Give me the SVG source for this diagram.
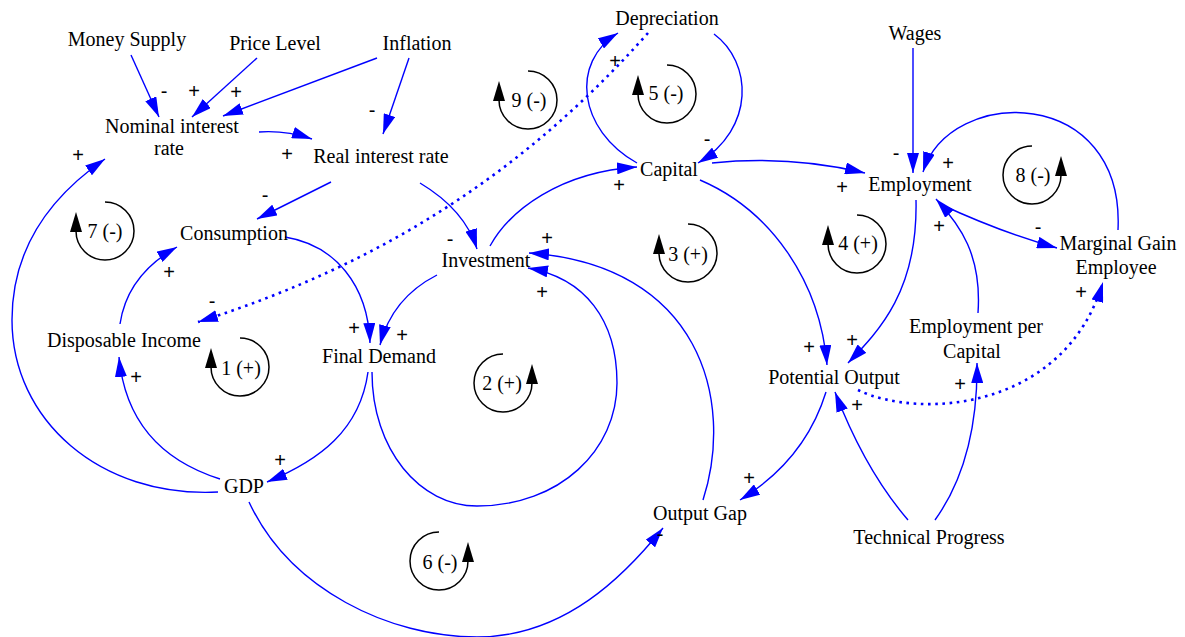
<svg xmlns="http://www.w3.org/2000/svg" xmlns:xlink="http://www.w3.org/1999/xlink" width="1185" height="637" viewBox="0 0 1185 637">
<style>
.n{font-family:"Liberation Serif","Times New Roman",serif;font-size:20px;fill:#000;text-anchor:middle}
.s{font-family:"Liberation Sans",Arial,sans-serif;font-size:20px;fill:#000;text-anchor:middle}
.l{font-family:"Liberation Serif","Times New Roman",serif;font-size:20px;fill:#000;text-anchor:middle}
.c{fill:none;stroke:#0000ff;stroke-width:1.4;marker-end:url(#ah)}
.d{fill:none;stroke:#0000ff;stroke-width:2.6;stroke-dasharray:2.6 4.6;marker-end:url(#ah)}
.la{fill:none;stroke:#000;stroke-width:1.5}
</style>
<defs>
<marker id="ah" markerUnits="userSpaceOnUse" markerWidth="20" markerHeight="12" viewBox="0 0 20 12" refX="20" refY="6" orient="auto">
<path d="M0,0 L20,6 L0,12 z" fill="#0000ff"/>
</marker>
<g id="loopCW"><path class="la" d="M0,-29 A29,29 0 1 1 -29,0"/><polygon points="-35,1 -23,1 -29,-19" fill="#000"/></g>
<g id="loopCCW"><path class="la" d="M0,-29 A29,29 0 1 0 29,0"/><polygon points="23,1 35,1 29,-19" fill="#000"/></g>
</defs>
<rect width="1185" height="637" fill="#fff"/>
<g id="connectors">
<path class="c" d="M131,55 L159,117"/>
<path class="c" d="M257,58 L192,117"/>
<path class="c" d="M377,58 L223,116"/>
<path class="c" d="M409,58 L383,134"/>
<path class="c" d="M259,132 Q285,130 312,139"/>
<path class="c" d="M331,182 L257,219"/>
<path class="c" d="M420,183 Q465,210 477,249"/>
<path class="c" d="M714,34 C752,62 756,128 698,163"/>
<path class="c" d="M637,163 C578,130 570,62 618,33"/>
<path class="d" d="M648,33 C528,168 388,262 198,322"/>
<path class="c" d="M712,163 Q790,155 865,173"/>
<path class="c" d="M700,180 C770,210 820,280 827,365"/>
<path class="c" d="M490,246 C510,210 560,172 637,167"/>
<path class="c" d="M940,204 Q1000,232 1057,248"/>
<path class="c" d="M1118,230 C1125,85 950,85 923,172"/>
<path class="c" d="M913,48 L913,173"/>
<path class="c" d="M916,200 C918,290 880,330 848,363"/>
<path class="c" d="M978,313 C982,255 960,225 936,199"/>
<path class="d" d="M858,390 C920,420 1065,410 1103,282"/>
<path class="c" d="M908,520 Q865,470 835,392"/>
<path class="c" d="M935,520 Q978,460 977,363"/>
<path class="c" d="M826,392 Q805,460 740,500"/>
<path class="c" d="M249,502 C290,590 390,637 477,637 C565,637 625,575 663,528"/>
<path class="c" d="M703,500 C735,400 700,265 529,253"/>
<path class="c" d="M372,372 C372,450 420,506 477,506 C560,506 617,450 617,383 C617,320 585,278 528,268"/>
<path class="c" d="M437,275 Q392,298 380,345"/>
<path class="c" d="M285,237 C335,245 368,285 370,343"/>
<path class="c" d="M368,372 C360,430 320,460 267,482"/>
<path class="c" d="M220,479 C160,460 125,420 119,357"/>
<path class="c" d="M218,492 C100,498 12,420 12,320 C12,240 60,190 105,159"/>
<path class="c" d="M120,324 C125,290 145,265 177,247"/>
</g>
<g id="polarities">
<text class="s" x="164" y="98">-</text>
<text class="s" x="194" y="98">+</text>
<text class="s" x="236" y="99">+</text>
<text class="s" x="372" y="117">-</text>
<text class="s" x="78" y="162">+</text>
<text class="s" x="287" y="161">+</text>
<text class="s" x="265" y="202">-</text>
<text class="s" x="615" y="68">+</text>
<text class="s" x="707" y="146">-</text>
<text class="s" x="619" y="192">+</text>
<text class="s" x="896" y="160">-</text>
<text class="s" x="948" y="170">+</text>
<text class="s" x="842" y="194">+</text>
<text class="s" x="939" y="233">+</text>
<text class="s" x="1038" y="234">-</text>
<text class="s" x="1081" y="299">+</text>
<text class="s" x="169" y="279">+</text>
<text class="s" x="212" y="308">-</text>
<text class="s" x="354" y="335">+</text>
<text class="s" x="402" y="342">+</text>
<text class="s" x="136" y="384">+</text>
<text class="s" x="280" y="467">+</text>
<text class="s" x="450" y="246">-</text>
<text class="s" x="547" y="245">+</text>
<text class="s" x="542" y="299">+</text>
<text class="s" x="749" y="485">+</text>
<text class="s" x="809" y="354">+</text>
<text class="s" x="852" y="347">+</text>
<text class="s" x="960" y="391">+</text>
<text class="s" x="857" y="412">+</text>
<text class="s" x="660" y="541">-</text>
</g>
<g id="loops">
<use xlink:href="#loopCW" transform="translate(240,367)"/><text class="l" x="241" y="375">1 (+)</text>
<use xlink:href="#loopCCW" transform="translate(503,383)"/><text class="l" x="502" y="390">2 (+)</text>
<use xlink:href="#loopCW" transform="translate(688,253)"/><text class="l" x="688" y="261">3 (+)</text>
<use xlink:href="#loopCW" transform="translate(857,244)"/><text class="l" x="858" y="250">4 (+)</text>
<use xlink:href="#loopCW" transform="translate(667,94)"/><text class="l" x="666" y="100">5 (-)</text>
<use xlink:href="#loopCCW" transform="translate(439,561)"/><text class="l" x="440" y="569">6 (-)</text>
<use xlink:href="#loopCW" transform="translate(105,231)"/><text class="l" x="105" y="238">7 (-)</text>
<use xlink:href="#loopCCW" transform="translate(1032,175)"/><text class="l" x="1033" y="182">8 (-)</text>
<use xlink:href="#loopCW" transform="translate(528,100)"/><text class="l" x="529" y="107">9 (-)</text>
</g>
<g id="money-supply"><text class="n" x="127" y="46">Money Supply</text></g>
<g id="price-level"><text class="n" x="275" y="50">Price Level</text></g>
<g id="inflation"><text class="n" x="417" y="50">Inflation</text></g>
<g id="nominal-interest-rate"><text class="n" x="172" y="133">Nominal interest</text><text class="n" x="169" y="155">rate</text></g>
<g id="real-interest-rate"><text class="n" x="381" y="163">Real interest rate</text></g>
<g id="depreciation"><text class="n" x="667" y="25">Depreciation</text></g>
<g id="capital"><text class="n" x="669" y="176">Capital</text></g>
<g id="wages"><text class="n" x="915" y="40">Wages</text></g>
<g id="employment"><text class="n" x="920" y="191">Employment</text></g>
<g id="marginal-gain-employee"><text class="n" x="1118" y="250">Marginal Gain</text><text class="n" x="1116" y="274">Employee</text></g>
<g id="consumption"><text class="n" x="234" y="240">Consumption</text></g>
<g id="disposable-income"><text class="n" x="124" y="347">Disposable Income</text></g>
<g id="final-demand"><text class="n" x="379" y="363">Final Demand</text></g>
<g id="gdp"><text class="n" x="244" y="493">GDP</text></g>
<g id="investment"><text class="n" x="486" y="267">Investment</text></g>
<g id="potential-output"><text class="n" x="834" y="384">Potential Output</text></g>
<g id="employment-per-capital"><text class="n" x="976" y="333">Employment per</text><text class="n" x="972" y="358">Capital</text></g>
<g id="output-gap"><text class="n" x="700" y="520">Output Gap</text></g>
<g id="technical-progress"><text class="n" x="929" y="544">Technical Progress</text></g>
</svg>
